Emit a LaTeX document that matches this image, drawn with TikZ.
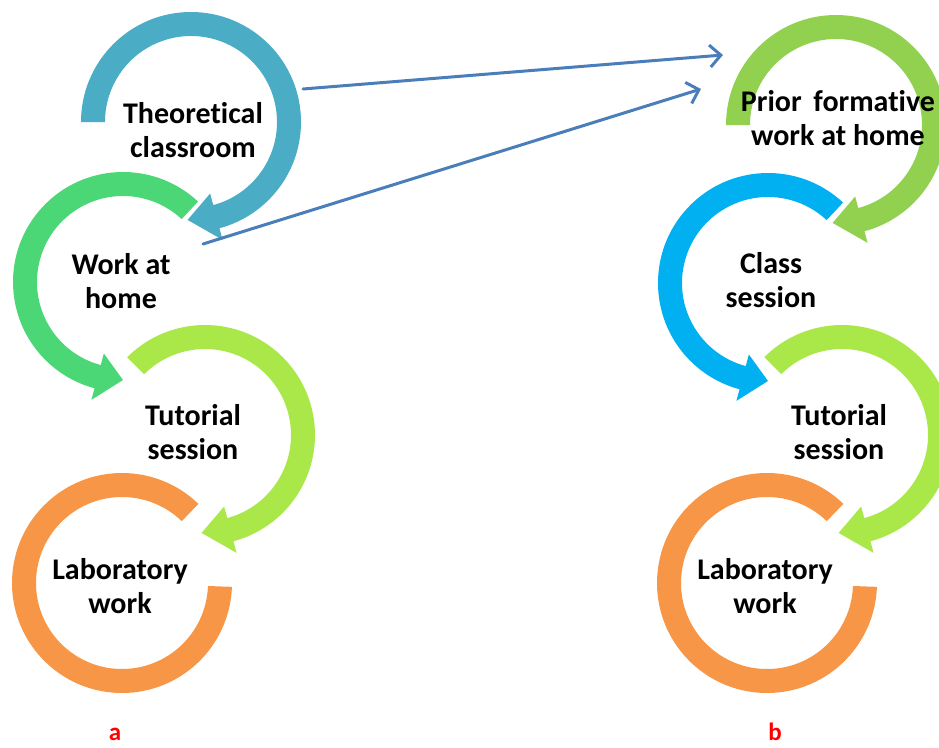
\documentclass[tikz,border=0pt]{standalone}
\usepackage{fontspec}
\setmainfont{Carlito}[Ligatures={NoCommon}]
\usetikzlibrary{arrows.meta}
\definecolor{cTheo}{HTML}{4BACC6}
\definecolor{cHome}{HTML}{4CD777}
\definecolor{cTut}{HTML}{AAE84A}
\definecolor{cLab}{HTML}{F79646}
\definecolor{cPrior}{HTML}{92D050}
\definecolor{cClass}{HTML}{00B0F0}
\definecolor{cLink}{HTML}{4A7EBB}
\newcommand\RingCW[4]{%
  \begin{scope}[shift={(#1,#2)}]
    \fill[#4] (#3:110) arc[start angle=#3, end angle=-75, radius=110]
      -- (-75:122) -- (-92:98) -- (-75:74) -- (-75:86)
      arc[start angle=-75, end angle=#3, radius=86] -- cycle;
  \end{scope}}
\newcommand\RingCCW[4]{%
  \begin{scope}[shift={(#1,#2)}]
    \fill[#4] (#3:110) arc[start angle=#3, end angle=255, radius=110]
      -- (255:122) -- (270:98) -- (255:74) -- (255:86)
      arc[start angle=255, end angle=#3, radius=86] -- cycle;
  \end{scope}}
\newcommand\RingLast[3]{%
  \begin{scope}[shift={(#1,#2)}]
    \fill[#3] (46:110) arc[start angle=46, end angle=358, radius=110]
      -- (358:86) arc[start angle=358, end angle=46, radius=86] -- cycle;
  \end{scope}}
\begin{document}
\begin{tikzpicture}[x=1pt,y=1pt,
  lbl/.style={font=\fontsize{30}{34}\selectfont\bfseries, align=center, inner sep=0pt},
  tag/.style={font=\fontsize{25}{28}\selectfont\bfseries, text=red, inner sep=0pt},
  link/.style={draw=cLink, line width=3pt, line cap=round,
    -{Straight Barb[length=11pt,width=22pt,line width=3pt]}}]
\useasboundingbox (0,0) rectangle (939,-747);
\clip (0,0) rectangle (939,-747);
% column a
\RingCW{191}{-122}{180}{cTheo}
\RingCCW{123}{-282}{47}{cHome}
\RingCW{205}{-435}{135}{cTut}
\RingLast{122}{-583}{cLab}
% column b
\RingCW{836}{-125}{180}{cPrior}
\RingCCW{768}{-283}{47}{cClass}
\RingCW{842}{-435}{135}{cTut}
\RingLast{767}{-583}{cLab}
% labels
\node[lbl] (theo) at (193,-130) {Theoretical\\classroom};
\node[lbl] (home) at (121,-281) {Work at\\home};
\node[lbl] (tuta) at (193,-432) {Tutorial\\session};
\node[lbl] (laba) at (120,-586) {Laboratory\\work};
\node[lbl] (prior) at (838,-118) {Prior\hspace{5pt} formative\\work at home};
\node[lbl] (class) at (771,-280) {Class\\session};
\node[lbl] (tutb) at (839,-432) {Tutorial\\session};
\node[lbl] (labb) at (765,-586) {Laboratory\\work};
\node[tag] (ta) at (115,-734) {a};
\node[tag] (tb) at (775,-732) {b};
% links
\coordinate (l1s) at (303,-89);
\coordinate (l1e) at (723,-55);
\coordinate (l2s) at (203,-244);
\coordinate (l2e) at (701,-89);
\draw[link] (l1s) -- (l1e);
\draw[link] (l2s) -- (l2e);
\end{tikzpicture}
\end{document}
